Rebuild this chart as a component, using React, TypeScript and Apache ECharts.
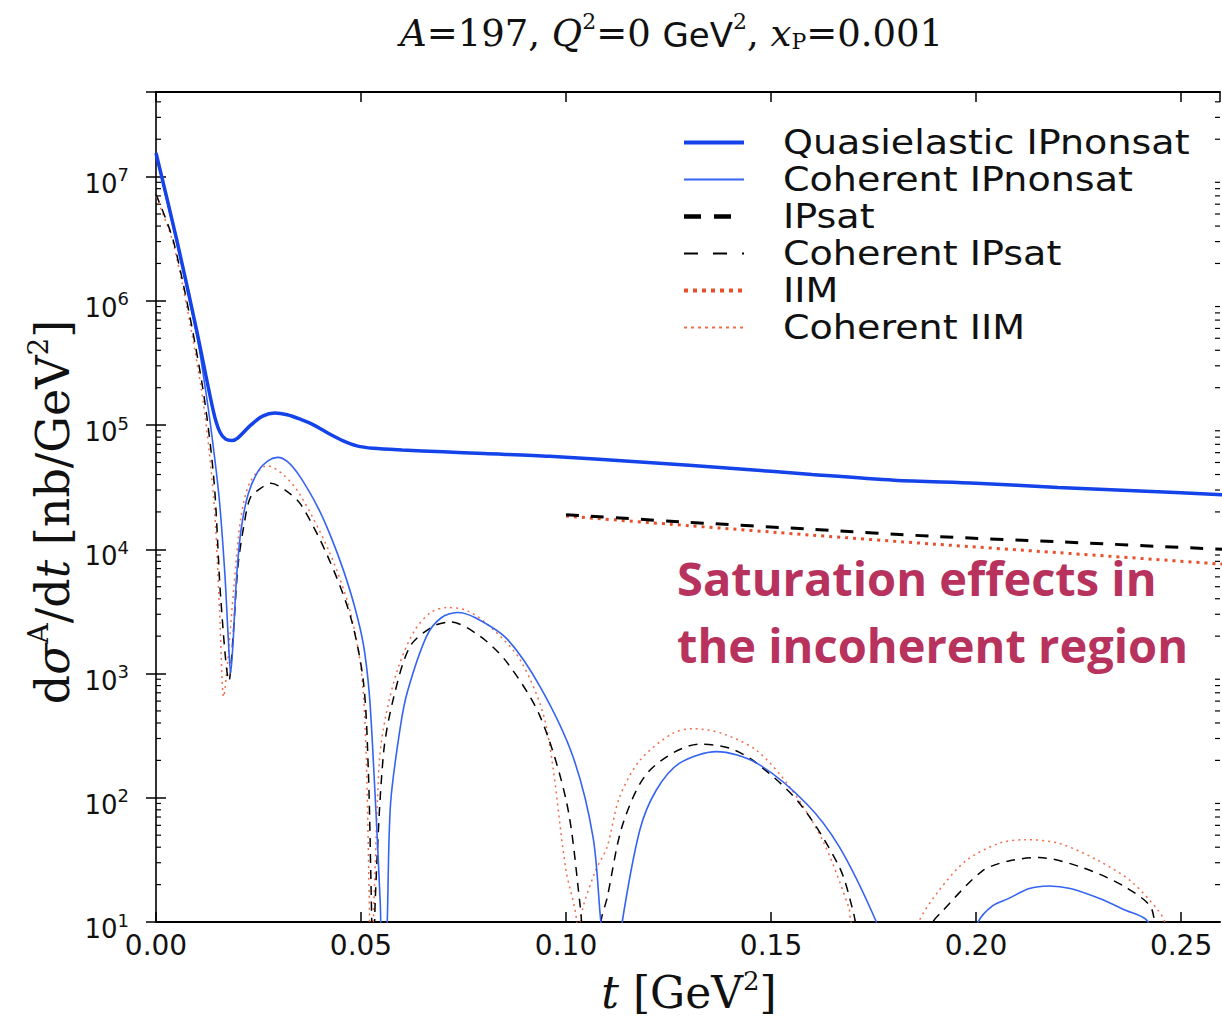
import React, { useEffect, useRef } from "react";
import * as echarts from "echarts";

// ---------- data (t in GeV^2, dσ/dt in nb/GeV^2) ----------
const qeT = [0, 0.005, 0.010, 0.014, 0.0155, 0.017, 0.0185, 0.020, 0.0231, 0.026, 0.029, 0.032, 0.035, 0.0385, 0.042, 0.0455, 0.049, 0.053, 0.06, 0.07, 0.08, 0.096, 0.12, 0.14, 0.16, 0.18, 0.20, 0.22, 0.24, 0.26];
const qeV = [1.55e7, 3.16e6, 5.6e5, 1.29e5, 8.9e4, 7.7e4, 7.5e4, 7.9e4, 1.0e5, 1.18e5, 1.25e5, 1.21e5, 1.12e5, 1.0e5, 8.6e4, 7.5e4, 6.8e4, 6.5e4, 6.3e4, 6.1e4, 5.9e4, 5.6e4, 5.0e4, 4.5e4, 4.0e4, 3.6e4, 3.4e4, 3.15e4, 2.95e4, 2.75e4];

const cohNonT = [0, 0.005, 0.010, 0.012, 0.0135, 0.0154, 0.0168, 0.0176, 0.0182, 0.0188, 0.0196, 0.0207, 0.0225, 0.025, 0.0275, 0.0297, 0.032, 0.035, 0.0394, 0.0425, 0.0457, 0.0485, 0.0506, 0.052, 0.053, 0.0547, 0.0552, 0.0558, 0.0564, 0.0572, 0.0595, 0.0613, 0.066, 0.0695, 0.0735, 0.078, 0.0856, 0.0937, 0.1017, 0.1066, 0.1085, 0.111, 0.1137, 0.118, 0.122, 0.1277, 0.1367, 0.1465, 0.1586, 0.1667, 0.1757, 0.188, 0.2005, 0.204, 0.208, 0.213, 0.2178, 0.223, 0.23, 0.236, 0.242, 0.25];
const cohNonV = [1.5e7, 3.0e6, 5.2e5, 2.0e5, 8.9e4, 2.6e4, 6.3e3, 2.0e3, 1.0e3, 1.8e3, 5.6e3, 1.4e4, 2.8e4, 4.3e4, 5.2e4, 5.5e4, 5.1e4, 3.9e4, 2.2e4, 1.3e4, 6.8e3, 3.4e3, 1.7e3, 700, 200, 14, 3, 3, 10, 89, 355, 710, 2.0e3, 2.8e3, 3.1e3, 2.8e3, 1.9e3, 780, 214, 48, 10, 2, 10, 55, 115, 190, 235, 190, 90, 40, 10, 1, 10, 13.5, 15.5, 18.6, 19.5, 18.6, 15.5, 12.6, 10, 2];

const ipsatT = [0.1, 0.13, 0.16, 0.19, 0.22, 0.26];
const ipsatV = [1.9e4, 1.65e4, 1.45e4, 1.27e4, 1.15e4, 1.0e4];

const cohSatT = [0, 0.0044, 0.011, 0.0141, 0.0158, 0.0178, 0.0188, 0.02, 0.0215, 0.023, 0.0255, 0.028, 0.0315, 0.0353, 0.0418, 0.0474, 0.0506, 0.0518, 0.0525, 0.053, 0.0535, 0.0555, 0.058, 0.062, 0.0676, 0.0718, 0.079, 0.0856, 0.0937, 0.1002, 0.1034, 0.104, 0.106, 0.1085, 0.11, 0.1139, 0.1204, 0.1326, 0.14, 0.1465, 0.157, 0.1667, 0.17, 0.1712, 0.18, 0.1895, 0.191, 0.2015, 0.208, 0.2153, 0.2258, 0.2365, 0.243, 0.245, 0.25];
const cohSatV = [7.2e6, 2.9e6, 2.4e5, 3.7e4, 4.0e3, 870, 2.0e3, 7.4e3, 1.6e4, 2.6e4, 3.1e4, 3.4e4, 3.0e4, 2.3e4, 8.9e3, 2.9e3, 850, 160, 16, 3, 16, 230, 650, 1.66e3, 2.4e3, 2.6e3, 2.0e3, 1.23e3, 450, 90, 14, 8, 1, 10, 15.5, 62, 166, 270, 250, 190, 90, 27.5, 12.3, 8, 1, 10, 11.5, 25.7, 31, 33, 27.5, 19, 12.3, 2, 2];

const iimT = [0.1, 0.13, 0.16, 0.19, 0.22, 0.26];
const iimV = [1.85e4, 1.55e4, 1.3e4, 1.1e4, 9.4e3, 7.6e3];

const cohIimT = [0, 0.0044, 0.011, 0.0141, 0.0155, 0.0165, 0.0175, 0.019, 0.0207, 0.023, 0.0272, 0.031, 0.035, 0.042, 0.047, 0.05, 0.0512, 0.052, 0.0524, 0.0533, 0.0545, 0.056, 0.059, 0.063, 0.067, 0.071, 0.076, 0.082, 0.089, 0.095, 0.1, 0.1026, 0.103, 0.1035, 0.107, 0.11, 0.113, 0.118, 0.126, 0.131, 0.138, 0.1465, 0.1545, 0.1625, 0.169, 0.1695, 0.178, 0.186, 0.191, 0.1975, 0.2056, 0.212, 0.2202, 0.23, 0.238, 0.2445, 0.246, 0.25];
const cohIimV = [6.9e6, 2.75e6, 2.0e5, 2.5e4, 3.2e3, 650, 1.26e3, 5.0e3, 1.8e4, 3.5e4, 4.7e4, 4.0e4, 2.8e4, 1.0e4, 3.5e3, 1.1e3, 250, 16, 3, 20, 200, 450, 1.1e3, 2.2e3, 3.1e3, 3.4e3, 3.2e3, 2.3e3, 1.26e3, 400, 26, 10, 2, 10, 25, 40, 100, 200, 330, 360, 330, 240, 123, 46, 13, 10, 2, 10, 18, 31, 43, 46, 43, 31, 21, 12.3, 10, 2];

const xTickLabels = ["0.00", "0.05", "0.10", "0.15", "0.20", "0.25"];
const minorMultipliers = [2, 3, 4, 5, 6, 7, 8, 9];
const minorDecades = [10, 100, 1e3, 1e4, 1e5, 1e6, 1e7];

const seriesNames = [
  "Quasielastic IPnonsat",
  "Coherent IPnonsat",
  "IPsat",
  "Coherent IPsat",
  "IIM",
  "Coherent IIM",
];

const X_MIN = 0;
const X_MAX = 0.2595;
const Y_MIN = 10;
const Y_MAX = 4.8e7;

const zip = (t: number[], v: number[]) => t.map((x, i) => [x, v[i]]);

export default function App() {
  const ref = useRef<HTMLDivElement>(null);
  useEffect(() => {
    if (!ref.current) return;
    const chart = echarts.init(ref.current, null, { renderer: "svg" });

    const minorData: number[][] = [];
    minorDecades.forEach((d) =>
      minorMultipliers.forEach((m) => {
        const v = d * m;
        if (v < Y_MAX) minorData.push([0, v]);
      })
    );

    const blue = "#1443ea";
    const blueThin = "#3563f2";
    const red = "#e8502c";
    const redThin = "#ef6c4c";

    // style per series: [color, width, dash]
    const styles: [string, number, any][] = [
      [blue, 3.5, "solid"],
      [blueThin, 1.6, "solid"],
      ["#000", 3, [13, 12]],
      ["#000", 1.5, [9, 7]],
      [red, 3, [3, 5]],
      [redThin, 1.5, [2, 4]],
    ];
    const legendDash: any[] = [null, null, [17, 13], [14, 15], [4, 5], [3, 4]];
    const legendWidth = [4, 2, 4.5, 2, 4, 2];

    const mkLine = (i: number, data: number[][], z = 3) => ({
      name: seriesNames[i],
      type: "line",
      data,
      symbol: "none",
      showSymbol: false,
      smooth: 0.3,
      clip: true,
      z,
      lineStyle: { color: styles[i][0], width: styles[i][1], type: styles[i][2] },
      itemStyle: { color: styles[i][0] },
    });

    const serif = "DejaVu Serif";
    const sans = "DejaVu Sans";

    const legendGraphics: any[] = [];
    seriesNames.forEach((name, i) => {
      const y = 142.5 + 37 * i;
      legendGraphics.push({
        type: "line",
        shape: { x1: 684, y1: y, x2: 744, y2: y },
        style: {
          stroke: styles[i][0],
          lineWidth: legendWidth[i],
          lineDash: legendDash[i] || undefined,
        },
        z: 10,
      });
      legendGraphics.push({
        type: "text",
        x: 783,
        y: y,
        scaleX: 1.12,
        style: {
          text: name,
          fontFamily: sans,
          fontSize: 34,
          lineHeight: 34,
          fill: "#111",
          verticalAlign: "middle",
          align: "left",
        },
        z: 10,
      });
    });

    const option: any = {
      animation: false,
      backgroundColor: "#ffffff",
      grid: { left: 156, right: 2, top: 92, bottom: 97, containLabel: false },
      xAxis: [
        {
          type: "value",
          min: X_MIN,
          max: X_MAX,
          interval: 0.05,
          position: "bottom",
          axisLine: { show: true, lineStyle: { color: "#000", width: 2 } },
          axisTick: { show: true, inside: true, length: 10, lineStyle: { color: "#000", width: 1.5 } },
          axisLabel: {
            show: true,
            margin: 9,
            showMaxLabel: false,
            fontFamily: sans,
            fontSize: 28,
            color: "#111",
            formatter: (v: number) => {
              const idx = Math.round(v / 0.05);
              return xTickLabels[idx] ?? "";
            },
          },
          splitLine: { show: false },
        },
        {
          type: "value",
          min: X_MIN,
          max: X_MAX,
          interval: 0.05,
          position: "top",
          axisLine: { show: true, lineStyle: { color: "#000", width: 2 } },
          axisTick: { show: true, inside: true, length: 10, lineStyle: { color: "#000", width: 1.5 } },
          axisLabel: { show: false },
          splitLine: { show: false },
        },
      ],
      yAxis: [
        {
          type: "log",
          logBase: 10,
          min: Y_MIN,
          max: Y_MAX,
          splitNumber: 7,
          position: "left",
          axisLine: { show: true, lineStyle: { color: "#000", width: 2 } },
          axisTick: { show: true, inside: true, length: 10, lineStyle: { color: "#000", width: 1.5 } },
          axisLabel: {
            show: true,
            margin: 27,
            showMaxLabel: false,
            formatter: (v: number) => {
              const e = Math.round(Math.log10(v));
              return `{b|10}{s|${e}}`;
            },
            rich: {
              b: { fontFamily: sans, fontSize: 26, color: "#111", padding: [14, 0, 0, 0], verticalAlign: "bottom" },
              s: { fontFamily: sans, fontSize: 18, color: "#111", padding: [0, 0, 13, 0], verticalAlign: "bottom" },
            },
          },
          splitLine: { show: false },
        },
        {
          type: "log",
          logBase: 10,
          min: Y_MIN,
          max: Y_MAX,
          splitNumber: 7,
          position: "right",
          axisLine: { show: true, lineStyle: { color: "#444", width: 1.5 } },
          axisTick: { show: true, inside: true, length: 10, lineStyle: { color: "#000", width: 1.5 } },
          axisLabel: { show: false },
          splitLine: { show: false },
        },
      ],
      series: [
        mkLine(0, zip(qeT, qeV), 6),
        mkLine(1, zip(cohNonT, cohNonV), 5),
        mkLine(2, zip(ipsatT, ipsatV), 4),
        mkLine(3, zip(cohSatT, cohSatV), 4),
        mkLine(4, zip(iimT, iimV), 3),
        mkLine(5, zip(cohIimT, cohIimV), 3),
        {
          name: "minorTicks",
          type: "custom",
          coordinateSystem: "cartesian2d",
          silent: true,
          clip: false,
          data: minorData,
          renderItem: (params: any, api: any) => {
            const v = api.value(1);
            const pl = api.coord([X_MIN, v]);
            const pr = api.coord([X_MAX, v]);
            return {
              type: "group",
              children: [
                { type: "line", shape: { x1: pl[0], y1: pl[1], x2: pl[0] + 5, y2: pl[1] }, style: { stroke: "#000", lineWidth: 1.2 } },
                { type: "line", shape: { x1: pr[0] - 5, y1: pr[1], x2: pr[0], y2: pr[1] }, style: { stroke: "#000", lineWidth: 1.2 } },
              ],
            };
          },
        },
      ],
      graphic: [
        ...legendGraphics,
        {
          type: "text",
          left: 400,
          top: 10,
          style: {
            text: "{i|A}{r|=197, }{i|Q}{p|2}{r|=0 }{g|GeV}{p|2}{r|, }{i|x}{d|P}{r|=0.001}",
            rich: {
              i: { fontFamily: serif, fontStyle: "italic", fontSize: 37, lineHeight: 44, verticalAlign: "bottom", fill: "#111" },
              r: { fontFamily: serif, fontSize: 37, lineHeight: 44, verticalAlign: "bottom", fill: "#111" },
              g: { fontFamily: sans, fontSize: 34, lineHeight: 44, verticalAlign: "bottom", fill: "#111" },
              p: { fontFamily: serif, fontSize: 22, padding: [0, 0, 20, 0], verticalAlign: "bottom", fill: "#111" },
              d: { fontFamily: serif, fontSize: 22, padding: [14, 0, 0, 0], verticalAlign: "bottom", fill: "#111" },
            },
          },
        },
        {
          type: "text",
          x: 50,
          y: 512,
          rotation: Math.PI / 2,
          style: {
            text: "{r|d}{i|σ}{p|A}{r|/d}{i|t}{r| [nb/GeV}{p|2}{r|]}",
            align: "center",
            verticalAlign: "middle",
            rich: {
              i: { fontFamily: serif, fontStyle: "italic", fontSize: 46, lineHeight: 52, verticalAlign: "bottom", fill: "#111" },
              r: { fontFamily: serif, fontSize: 46, lineHeight: 52, verticalAlign: "bottom", fill: "#111" },
              p: { fontFamily: serif, fontSize: 28, padding: [0, 0, 24, 0], verticalAlign: "bottom", fill: "#111" },
            },
          },
        },
        {
          type: "text",
          x: 689,
          y: 991,
          style: {
            text: "{i|t}{r| [GeV}{p|2}{r|]}",
            align: "center",
            verticalAlign: "middle",
            rich: {
              i: { fontFamily: serif, fontStyle: "italic", fontSize: 44, lineHeight: 46, verticalAlign: "bottom", fill: "#111" },
              r: { fontFamily: serif, fontSize: 44, lineHeight: 46, verticalAlign: "bottom", fill: "#111" },
              p: { fontFamily: serif, fontSize: 26, padding: [0, 0, 20, 0], verticalAlign: "bottom", fill: "#111" },
            },
          },
        },
        {
          type: "text",
          left: 677,
          top: 544,
          style: {
            text: "Saturation effects in\nthe incoherent region",
            fontFamily: "Open Sans",
            fontWeight: "bold",
            fontSize: 47,
            lineHeight: 67,
            fill: "#b8325e",
          },
        },
      ],
    };

    chart.setOption(option);
    return () => chart.dispose();
  }, []);

  return (
    <div
      ref={ref}
      style={{ position: "absolute", left: 0, top: 0, width: 1222, height: 1019, background: "#fff" }}
    />
  );
}
